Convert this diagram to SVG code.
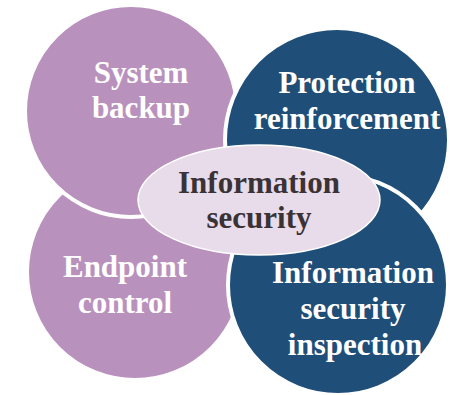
<svg xmlns="http://www.w3.org/2000/svg" width="450" height="395" viewBox="0 0 450 395">
<style>
.c{stroke:#fff;stroke-width:4}
.p{fill:#b991bd}
.b{fill:#1f4e79}
.t{font-family:"Liberation Serif","Times New Roman",serif;font-weight:bold;font-size:31px;text-anchor:middle}
.w{fill:#fff}
.d{fill:#3b3236}
</style>
<rect width="450" height="395" fill="#fff"/>
<g id="endpoint-control">
<circle class="c p" cx="135" cy="272" r="108"/>
<text class="t w" x="125" y="277">Endpoint</text>
<text class="t w" x="125" y="313">control</text>
</g>
<g id="system-backup">
<circle class="c p" cx="131" cy="111" r="106"/>
<text class="t w" x="141" y="83">System</text>
<text class="t w" x="141" y="118">backup</text>
</g>
<g id="protection-reinforcement">
<circle class="c b" cx="337" cy="140" r="112"/>
<text class="t w" x="347" y="93">Protection</text>
<text class="t w" x="347" y="129">reinforcement</text>
</g>
<g id="information-security-inspection">
<circle class="c b" cx="338" cy="285" r="110"/>
<text class="t w" x="353" y="283">Information</text>
<text class="t w" x="353" y="319">security</text>
<text class="t w" x="355" y="355">inspection</text>
</g>
<g id="information-security">
<ellipse cx="259" cy="200" rx="121" ry="55" fill="#e8dcea" stroke="#fff" stroke-width="1.5"/>
<text class="t d" x="259" y="193">Information</text>
<text class="t d" x="259" y="228">security</text>
</g>
<g id="connectors"/>
</svg>
